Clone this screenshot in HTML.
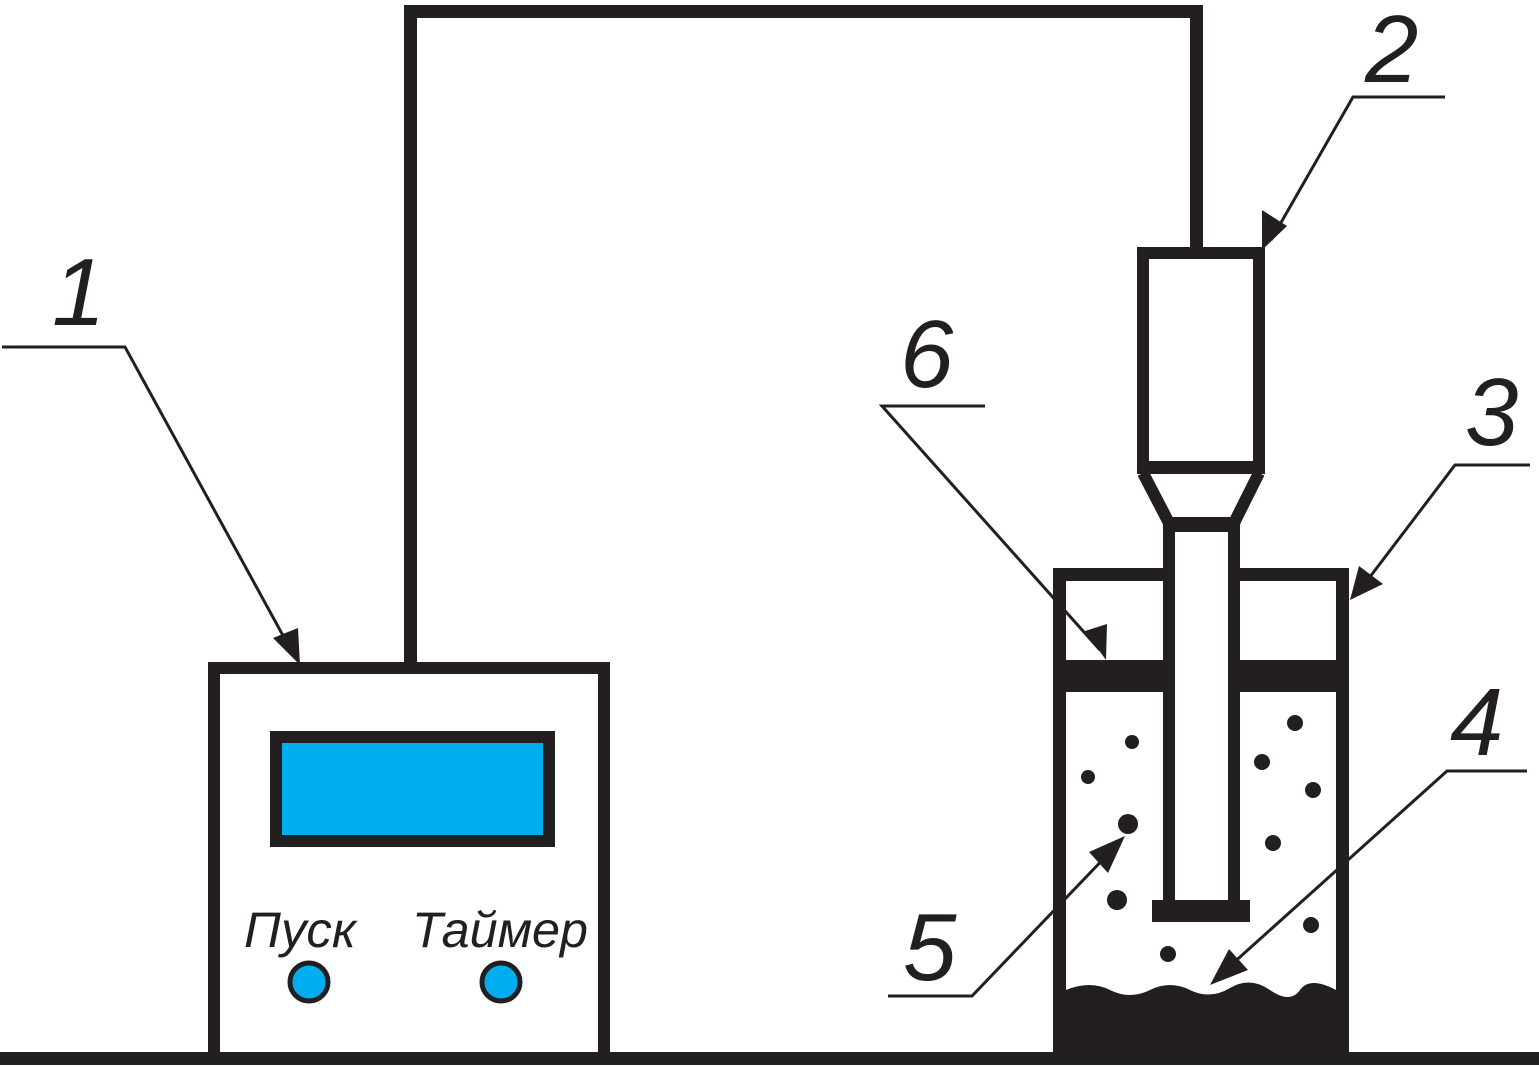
<!DOCTYPE html>
<html><head><meta charset="utf-8"><style>html,body{margin:0;padding:0;background:#fff;}svg{display:block}</style></head>
<body>
<svg width="1539" height="1068" viewBox="0 0 1539 1068" xmlns="http://www.w3.org/2000/svg">
<defs>
<marker id="ar" markerWidth="10" markerHeight="10" refX="9" refY="5" orient="auto" markerUnits="userSpaceOnUse" viewBox="0 0 10 10">
</marker>
</defs>
<g fill="#231f20" stroke="none">
<!-- ground -->
<rect x="0" y="1052" width="1539" height="13"/>
<!-- wire -->
<rect x="404" y="5" width="13" height="662"/>
<rect x="404" y="5" width="799" height="13"/>
<rect x="1190" y="5" width="13" height="245"/>
</g>
<!-- box 1 -->
<rect x="214" y="668" width="390" height="390" fill="#fff" stroke="#231f20" stroke-width="12"/>
<rect x="276" y="737" width="273" height="104" fill="#00aeef" stroke="#231f20" stroke-width="12"/>
<circle cx="309" cy="982" r="19" fill="#00aeef" stroke="#231f20" stroke-width="5"/>
<circle cx="501" cy="982" r="19" fill="#00aeef" stroke="#231f20" stroke-width="5"/>
<g font-family="Liberation Sans, sans-serif" font-style="italic" fill="#231f20">
<text x="244" y="947" font-size="50" textLength="112" lengthAdjust="spacingAndGlyphs">Пуск</text>
<text x="412" y="947" font-size="50" textLength="176" lengthAdjust="spacingAndGlyphs">Таймер</text>
</g>
<!-- beaker -->
<g fill="#231f20">
<rect x="1053" y="568" width="13" height="490"/>
<rect x="1336" y="568" width="13" height="490"/>
<rect x="1053" y="568" width="296" height="13"/>
<rect x="1053" y="660" width="296" height="32"/>
<path d="M1066 990 Q1090 980 1110 990 T1150 990 T1190 990 T1230 988 T1270 990 T1300 990 T1336 990 L1336 1054 L1066 1054 Z"/>
<circle cx="1132" cy="742" r="7"/><circle cx="1088" cy="777" r="7"/><circle cx="1128" cy="824" r="10"/>
<circle cx="1117" cy="900" r="10"/><circle cx="1168" cy="954" r="8"/><circle cx="1295" cy="723" r="8"/>
<circle cx="1262" cy="762" r="8"/><circle cx="1313" cy="790" r="8"/><circle cx="1273" cy="843" r="8"/>
<circle cx="1311" cy="925" r="8"/>
</g>
<!-- probe -->
<rect x="1163" y="520" width="77" height="385" fill="#fff" stroke="none"/>
<g fill="#231f20">
<rect x="1163" y="520" width="12" height="385"/>
<rect x="1228" y="520" width="12" height="385"/>
<rect x="1152" y="900" width="98" height="22"/>
<rect x="1163" y="520" width="77" height="12"/>
</g>
<rect x="1143" y="253" width="116" height="214" fill="#fff" stroke="#231f20" stroke-width="12"/>
<path d="M1143 473 L1169 523 L1234 523 L1259 473" fill="none" stroke="#231f20" stroke-width="12" stroke-linejoin="miter"/>
<rect x="1137" y="461" width="128" height="13" fill="#231f20"/>
<!-- leaders -->
<g stroke="#231f20" stroke-width="3" fill="none">
<polyline points="2,347 125,347 292,652"/>
<polyline points="1445,97 1353,97 1271,240"/>
<polyline points="985,406 882,406 1100,650"/>
<polyline points="1530,465 1455,465 1360,590"/>
<polyline points="1527,771 1447,771 1220,975"/>
<polyline points="888,996 972,996 1112,850"/>
</g>
<g fill="#231f20">
<polygon points="300,665 273,638 298,628"/>
<polygon points="1262,250 1262,210 1287,226"/>
<polygon points="1106,660 1085,631 1107,624"/>
<polygon points="1350,600 1359,566 1383,584"/>
<polygon points="1210,985 1229,949 1248,970"/>
<polygon points="1125,836 1089,852 1108,873"/>
</g>
<g font-family="Liberation Sans, sans-serif" font-style="italic" font-size="96" fill="#231f20">
<text x="52" y="325">1</text>
<text x="1365" y="82">2</text>
<text x="1465" y="445">3</text>
<text x="1450" y="755">4</text>
<text x="903" y="980">5</text>
<text x="900" y="387">6</text>
</g>
</svg>
</body></html>
